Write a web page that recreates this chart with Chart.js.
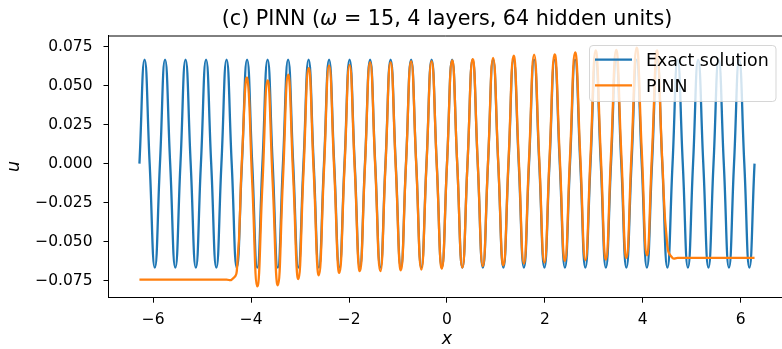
<!DOCTYPE html>
<html>
<head>
<meta charset="utf-8">
<script src="https://cdn.jsdelivr.net/npm/chart.js@4.4.1/dist/chart.umd.min.js"></script>
<style>
  html, body { margin: 0; padding: 0; background: #fff; overflow: hidden; }
  #wrap { position: relative; width: 782px; height: 349px; }
</style>
</head>
<body>
<div id="wrap"><canvas id="myChart"></canvas></div>
<script>
// x positions (peaks, troughs and zero crossings of the exact solution)
const xValues = [
  -6.283, -6.178, -6.074, -5.969, -5.864, -5.760, -5.655, -5.550, -5.445, -5.341,
  -5.236, -5.131, -5.027, -4.922, -4.817, -4.712, -4.608, -4.503, -4.398, -4.294,
  -4.189, -4.084, -3.979, -3.875, -3.770, -3.665, -3.561, -3.456, -3.351, -3.246,
  -3.142, -3.037, -2.932, -2.827, -2.723, -2.618, -2.513, -2.409, -2.304, -2.199,
  -2.094, -1.990, -1.885, -1.780, -1.676, -1.571, -1.466, -1.361, -1.257, -1.152,
  -1.047, -0.942, -0.838, -0.733, -0.628, -0.524, -0.419, -0.314, -0.209, -0.105,
  0.000,
  0.105, 0.209, 0.314, 0.419, 0.524, 0.628, 0.733, 0.838, 0.942, 1.047,
  1.152, 1.257, 1.361, 1.466, 1.571, 1.676, 1.780, 1.885, 1.990, 2.094,
  2.199, 2.304, 2.409, 2.513, 2.618, 2.723, 2.827, 2.932, 3.037, 3.142,
  3.246, 3.351, 3.456, 3.561, 3.665, 3.770, 3.875, 3.979, 4.084, 4.189,
  4.294, 4.398, 4.503, 4.608, 4.712, 4.817, 4.922, 5.027, 5.131, 5.236,
  5.341, 5.445, 5.550, 5.655, 5.760, 5.864, 5.969, 6.074, 6.178, 6.283
];

const exactU = [
  0, 0.0667, 0, -0.0667, 0, 0.0667, 0, -0.0667,
  0, 0.0667, 0, -0.0667, 0, 0.0667, 0, -0.0667,
  0, 0.0667, 0, -0.0667, 0, 0.0667, 0, -0.0667,
  0, 0.0667, 0, -0.0667, 0, 0.0667, 0, -0.0667,
  0, 0.0667, 0, -0.0667, 0, 0.0667, 0, -0.0667,
  0, 0.0667, 0, -0.0667, 0, 0.0667, 0, -0.0667,
  0, 0.0667, 0, -0.0667, 0, 0.0667, 0, -0.0667,
  0, 0.0667, 0, -0.0667, 0, 0.0667, 0, -0.0667,
  0, 0.0667, 0, -0.0667, 0, 0.0667, 0, -0.0667,
  0, 0.0667, 0, -0.0667, 0, 0.0667, 0, -0.0667,
  0, 0.0667, 0, -0.0667, 0, 0.0667, 0, -0.0667,
  0, 0.0667, 0, -0.0667, 0, 0.0667, 0, -0.0667,
  0, 0.0667, 0, -0.0667, 0, 0.0667, 0, -0.0667,
  0, 0.0667, 0, -0.0667, 0, 0.0667, 0, -0.0667,
  0, 0.0667, 0, -0.0667, 0, 0.0667, 0, -0.0667,
  0
];

const pinnU = [
  -0.0744, -0.0744, -0.0744, -0.0744, -0.0744, -0.0744, -0.0744, -0.0744, -0.0744, -0.0744,
  -0.0744, -0.0744, -0.0744, -0.0744, -0.0744, -0.0744, -0.0744, -0.0744, -0.0744, -0.0690,
  0.003, 0.0549, -0.012, -0.0787, -0.013, 0.0534, -0.012, -0.0780, -0.010, 0.0570,
  -0.008, -0.0740, -0.006, 0.0613, -0.005, -0.0716, -0.004, 0.0630, -0.004, -0.0701,
  -0.003, 0.0634, -0.003, -0.0690, -0.002, 0.0651, -0.002, -0.0690, -0.002, 0.0651,
  -0.002, -0.0684, -0.001, 0.0658, -0.001, -0.0680, -0.001, 0.0658, -0.001, -0.0673,
  -0.0005,
  0.0662, 0.000, -0.0667, 0.000, 0.0671, 0.001, -0.0658, 0.001, 0.0679, 0.001,
  -0.0652, 0.002, 0.0692, 0.003, -0.0641, 0.003, 0.0699, 0.003, -0.0635, 0.003,
  0.0701, 0.004, -0.0624, 0.0045, 0.0713, 0.005, -0.0620, 0.005, 0.0726, 0.0055,
  -0.0615, 0.006, 0.0730, 0.0065, -0.0605, 0.007, 0.0744, 0.008, -0.0588, 0.007,
  0.0726, 0.002, -0.053, -0.0605, -0.0605, -0.0605, -0.0605, -0.0605, -0.0605, -0.0605,
  -0.0605, -0.0605, -0.0605, -0.0605, -0.0605, -0.0605, -0.0605, -0.0605, -0.0605, -0.0605
];

const xTicks = [-6, -4, -2, 0, 2, 4, 6];
const yTicks = [-0.075, -0.05, -0.025, 0, 0.025, 0.05, 0.075];
const seriesNames = ["Exact solution", "PINN"];
const seriesColors = ["#1f77b4", "#ff7f0e"];

const FONT = "'DejaVu Sans', 'Liberation Sans', sans-serif";
const minus = (s) => s.replace("-", "\u2212");

// title, top spine, axis labels and legend
const decor = {
  id: "decor",
  afterDraw(chart) {
    const ctx = chart.ctx;
    const a = chart.chartArea;
    const cx = chart.scales.x.getPixelForValue(0);
    ctx.save();

    ctx.strokeStyle = "#000";
    ctx.lineWidth = 1;
    ctx.beginPath();
    ctx.moveTo(a.left, a.top + 0.5);
    ctx.lineTo(a.right, a.top + 0.5);
    ctx.stroke();

    // title
    const parts = [
      ["(c) PINN (", "normal"],
      ["\u03c9", "italic"],
      [" = 15, 4 layers, 64 hidden units)", "normal"]
    ];
    let total = 0;
    parts.forEach(p => {
      ctx.font = p[1] + " 20.7px " + FONT;
      total += ctx.measureText(p[0]).width;
    });
    let tx = cx - total / 2;
    ctx.fillStyle = "#000";
    ctx.textBaseline = "alphabetic";
    ctx.textAlign = "left";
    parts.forEach(p => {
      ctx.font = p[1] + " 20.7px " + FONT;
      ctx.fillText(p[0], tx, 24.5);
      tx += ctx.measureText(p[0]).width;
    });

    // axis labels
    ctx.font = "italic 17.4px " + FONT;
    ctx.textAlign = "center";
    ctx.fillText("x", cx, 344);
    ctx.save();
    ctx.translate(19, (a.top + a.bottom) / 2);
    ctx.rotate(-Math.PI / 2);
    ctx.fillText("u", 0, 0);
    ctx.restore();

    // legend
    const lx = 589.5, ly = 45.5, lw = 186.5, lh = 56;
    ctx.beginPath();
    if (ctx.roundRect) ctx.roundRect(lx, ly, lw, lh, 3.5);
    else ctx.rect(lx, ly, lw, lh);
    ctx.fillStyle = "rgba(255,255,255,0.8)";
    ctx.fill();
    ctx.strokeStyle = "rgba(204,204,204,0.8)";
    ctx.lineWidth = 1;
    ctx.stroke();

    ctx.font = "17.4px " + FONT;
    ctx.textAlign = "left";
    seriesNames.forEach((name, i) => {
      const y = 59.7 + i * 25.6;
      ctx.strokeStyle = seriesColors[i];
      ctx.lineWidth = 2.3;
      ctx.beginPath();
      ctx.moveTo(595, y);
      ctx.lineTo(632, y);
      ctx.stroke();
      ctx.fillStyle = "#000";
      ctx.fillText(name, 646, y + 6.2);
    });
    ctx.restore();
  }
};

const lineStyle = {
  borderWidth: 2.3,
  pointRadius: 0,
  tension: 0.5,
  fill: false,
  borderJoinStyle: "round"
};

const chart = new Chart(document.getElementById("myChart"), {
  type: "line",
  data: {
    datasets: [
      Object.assign({
        label: seriesNames[0],
        data: xValues.map((x, i) => ({ x: x, y: exactU[i] })),
        borderColor: seriesColors[0],
        order: 2
      }, lineStyle),
      Object.assign({
        label: seriesNames[1],
        data: xValues.map((x, i) => ({ x: x, y: pinnU[i] })),
        borderColor: seriesColors[1],
        order: 1
      }, lineStyle)
    ]
  },
  options: {
    responsive: true,
    maintainAspectRatio: false,
    animation: false,
    events: [],
    layout: { padding: { top: 35.5, right: 0, bottom: 0, left: 0 } },
    plugins: {
      legend: { display: false },
      title: { display: false },
      tooltip: { enabled: false }
    },
    scales: {
      x: {
        type: "linear",
        min: -6.915,
        max: 6.844,
        afterBuildTicks: (s) => { s.ticks = xTicks.map(v => ({ value: v })); },
        afterFit: (s) => { s.height = 51.3; },
        grid: { display: true, drawOnChartArea: false, drawTicks: true, tickLength: 5, color: "#000", lineWidth: 1 },
        border: { display: true, color: "#000", width: 1 },
        ticks: {
          color: "#000",
          font: { family: FONT, size: 15.5 },
          padding: 8,
          maxRotation: 0,
          autoSkip: false,
          callback: (v) => minus(String(v))
        }
      },
      y: {
        type: "linear",
        min: -0.086,
        max: 0.0822,
        afterBuildTicks: (s) => { s.ticks = yTicks.map(v => ({ value: v })); },
        afterFit: (s) => { s.width = 108.5; },
        grid: { display: true, drawOnChartArea: false, drawTicks: true, tickLength: 5, color: "#000", lineWidth: 1 },
        border: { display: true, color: "#000", width: 1 },
        ticks: {
          color: "#000",
          font: { family: FONT, size: 15.5 },
          padding: 11,
          autoSkip: false,
          callback: (v) => minus(v.toFixed(3))
        }
      }
    }
  },
  plugins: [decor]
});
</script>
</body>
</html>
